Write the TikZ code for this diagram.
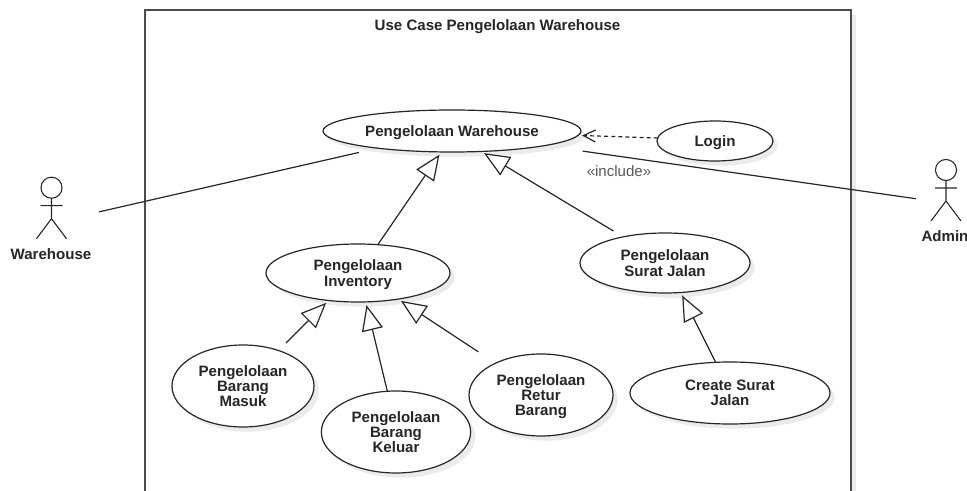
\documentclass[tikz,border=0pt]{standalone}
\usepackage{fontspec}
\setmainfont{Liberation Sans}
\usetikzlibrary{arrows.meta,shadows,shapes.geometric}

\tikzset{
    softshadow/.style={drop shadow={shadow xshift=3.5pt, shadow yshift=-3.5pt, opacity=1, fill=black!8}},
    usecase/.style={draw=black!85, ellipse, fill=white, line width=0.9pt, inner sep=0pt, outer sep=0pt, align=center, softshadow,
        font=\fontsize{11.3}{11.5}\selectfont\bfseries, text=black!85, text depth=0pt},
    actorbox/.style={rectangle, minimum width=22.5pt, minimum height=46.5pt, inner sep=0pt, outer sep=0pt},
    actorname/.style={font=\fontsize{11.3}{11.5}\selectfont\bfseries, text=black!85, inner sep=0pt},
    assoc/.style={draw=black!85, line width=0.9pt},
    genarrow/.style={assoc, -{Triangle[open, fill=white, length=19pt, width=16pt]}, shorten >=2.5pt},
    stickline/.style={draw=black!85, line width=0.8pt}
}

% head centre is given, the rest of the figure hangs below it
\newcommand{\stickman}[1]{
    \draw[stickline, shift={(#1)}] (0,0) circle (7.9pt);
    \draw[stickline, shift={(#1)}] (0,10.5) -- (0,31) (-11,18) -- (11,18) (-15,51) -- (0,31) -- (15,51);
}

\begin{document}
\begin{tikzpicture}[x=0.75pt, y=-0.75pt]
    \useasboundingbox (0,0) rectangle (967,491);

    \node[draw=black!70, rectangle, fill=white, line width=1.1pt, minimum width=529.5pt, minimum height=382.5pt, softshadow] (boundary) at (498,265) {};
    \node[actorname] (title) at (497.5,26.5) {Use Case Pengelolaan Warehouse};

    % use cases
    \node[usecase, minimum width=193.5pt, minimum height=31.5pt] (main) at (452,131) {Pengelolaan Warehouse};
    \node[usecase, minimum width=87pt, minimum height=30pt] (login) at (715,141) {Login};
    \node[usecase, minimum width=138pt, minimum height=43.5pt] (inv) at (358,273) {Pengelolaan\\Inventory};
    \node[usecase, minimum width=127.5pt, minimum height=45pt] (surat) at (665,263) {Pengelolaan\\Surat Jalan};
    \node[usecase, minimum width=106.5pt, minimum height=61.5pt] (masuk) at (243,386) {Pengelolaan\\Barang\\Masuk};
    \node[usecase, minimum width=112pt, minimum height=61.5pt] (keluar) at (396,432) {Pengelolaan\\Barang\\Keluar};
    \node[usecase, minimum width=108pt, minimum height=61.5pt] (retur) at (541,395) {Pengelolaan\\Retur\\Barang};
    \node[usecase, minimum width=150pt, minimum height=46.5pt] (create) at (730,393) {Create Surat\\Jalan};

    % actors
    \node[actorbox] (warehouse) at (51.5,208) {};
    \node[actorbox] (admin) at (946,190) {};
    \stickman{51.5,187.7}
    \stickman{946,170}
    \node[actorname] (warehousename) at (51,254) {Warehouse};
    \node[actorname] (adminname) at (945,236) {Admin};

    \draw[assoc, shorten <=25pt, shorten >=14.5pt] (warehouse.-37.2) -- (main.193.4);
    \draw[assoc, shorten <=11.5pt, shorten >=29pt] (admin.216.7) -- (main.351.7);
    \draw[assoc, dashed, dash pattern=on 3pt off 2.3pt, -{Straight Barb[length=9pt, width=9pt]}, shorten >=3pt] (login.177) -- (main.358);
    \node[text=black!65, inner sep=0pt, font=\fontsize{11.3}{11.5}\selectfont] (includelabel) at (619,171) {«include»};

    \draw[genarrow] (inv.55.5) -- (main.243.4);
    \draw[genarrow, shorten <=8.5pt] (surat.148.7) -- (main.325.1);
    \draw[genarrow] (create.115.8) -- (surat.298);
    \draw[genarrow, shorten <=8pt] (masuk.45) -- (inv.223.2);
    \draw[genarrow] (keluar.102) -- (inv.285);
    \draw[genarrow, shorten <=15.5pt] (retur.145.7) -- (inv.327.4);
\end{tikzpicture}
\end{document}
